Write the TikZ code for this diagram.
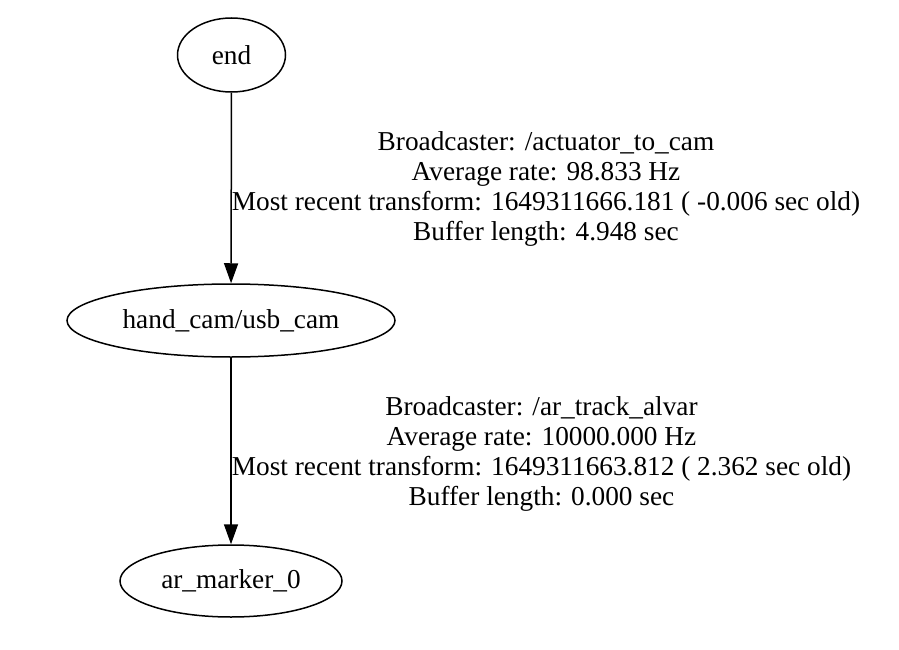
\documentclass[tikz,border=0pt]{standalone}
\usepackage{fontspec}
\setmainfont{Liberation Serif}
\usetikzlibrary{shapes.geometric}
\usetikzlibrary{arrows.meta}

\tikzset{
  frame/.style={draw, ellipse, line width=1.5pt, inner sep=0pt},
  tflabel/.style={align=center, inner sep=0pt, font=\fontsize{27.3}{30}\selectfont},
}

\begin{document}
\begin{tikzpicture}[x=1pt,y=-1pt,>={Triangle[length=20pt,width=14pt]},
    font=\fontsize{27.3}{30}\selectfont]
      \useasboundingbox (0,0) rectangle (899,650);

      % frames
      \node[frame, minimum width=108pt, minimum height=74pt] (end) at (231.5,55) {end};
      \node[frame, minimum width=328pt, minimum height=73pt] (usbcam) at (231,320.5) {hand\_cam/usb\_cam};
      \node[frame, minimum width=222pt, minimum height=72pt] (marker) at (231,581) {ar\_marker\_0};

      % transforms
      \draw[->, line width=1.5pt] (end) -- (usbcam);
      \draw[->, line width=1.5pt] (usbcam) -- (marker);

      \node[tflabel] (tf1) at (546,189) {Broadcaster: /actuator\_to\_cam\\Average rate: 98.833 Hz\\Most recent transform: 1649311666.181 ( -0.006 sec old)\\Buffer length: 4.948 sec};
      \node[tflabel] (tf2) at (541.5,453.5) {Broadcaster: /ar\_track\_alvar\\Average rate: 10000.000 Hz\\Most recent transform: 1649311663.812 ( 2.362 sec old)\\Buffer length: 0.000 sec};
\end{tikzpicture}
\end{document}
